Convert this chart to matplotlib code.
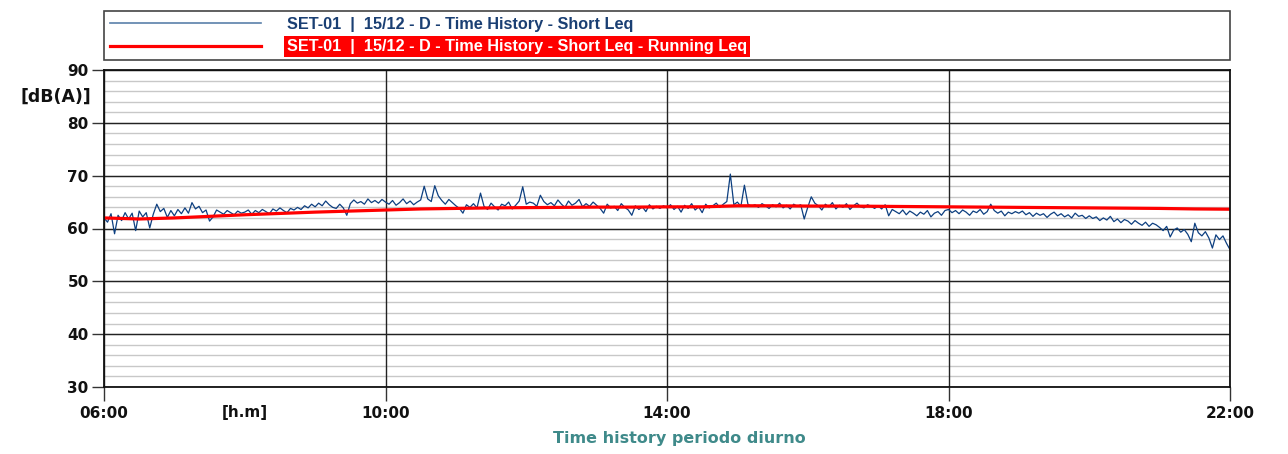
import numpy as np
import matplotlib
matplotlib.use('Agg')
import matplotlib.pyplot as plt
import matplotlib.transforms as mtransforms

# Short Leq, one value every 3 minutes from 06:00 to 22:00 (dB(A))
leq_06 = [62.0, 61.2, 62.8, 59.0, 62.5, 61.5, 63.0, 61.8, 62.9, 59.6, 63.3, 62.2, 63.0, 60.1, 62.7, 64.6, 63.2, 63.8, 62.1, 63.4]
leq_07 = [62.4, 63.6, 62.8, 63.9, 62.9, 64.9, 63.7, 64.2, 63.0, 63.5, 61.4, 62.2, 63.5, 63.1, 62.7, 63.4, 63.0, 62.6, 63.3, 62.9]
leq_08 = [63.1, 63.5, 62.7, 63.4, 63.0, 63.6, 63.2, 62.8, 63.7, 63.3, 63.9, 63.4, 63.0, 63.8, 63.5, 64.0, 63.6, 64.3, 63.9, 64.6]
leq_09 = [64.1, 64.8, 64.3, 65.2, 64.5, 64.0, 63.8, 64.6, 63.9, 62.5, 64.7, 65.4, 64.8, 65.1, 64.6, 65.6, 64.9, 65.3, 64.8, 65.5]
leq_10 = [65.0, 64.6, 65.3, 64.4, 64.9, 65.6, 64.7, 65.2, 64.5, 65.0, 65.4, 68.0, 65.6, 65.1, 68.1, 66.2, 65.3, 64.6, 65.5, 64.9]
leq_11 = [64.3, 63.8, 62.9, 64.5, 64.0, 64.7, 63.9, 66.7, 64.2, 63.6, 64.8, 64.1, 63.5, 64.6, 64.3, 65.0, 63.7, 64.4, 65.2, 67.9]
leq_12 = [64.6, 65.0, 64.8, 64.2, 66.3, 65.1, 64.5, 64.9, 64.3, 65.4, 64.6, 64.0, 65.2, 64.4, 64.8, 65.5, 64.1, 64.7, 64.2, 65.0]
leq_13 = [64.4, 63.8, 62.9, 64.6, 63.9, 64.2, 63.4, 64.7, 64.0, 63.5, 62.5, 64.3, 63.6, 64.1, 63.2, 64.5, 63.7, 64.2, 63.8, 64.3]
leq_14 = [63.9, 64.5, 63.6, 64.2, 63.1, 64.4, 63.8, 64.7, 63.5, 64.1, 63.0, 64.6, 63.9, 64.3, 64.8, 64.0, 64.6, 65.1, 70.3, 64.5]
leq_15 = [65.0, 64.2, 68.2, 64.6, 64.2, 64.5, 64.0, 64.7, 64.3, 63.8, 64.5, 64.1, 64.8, 63.9, 64.4, 63.7, 64.6, 64.2, 64.5, 61.8]
leq_16 = [64.0, 66.0, 64.8, 64.3, 63.5, 64.6, 64.1, 64.9, 63.7, 64.4, 64.0, 64.7, 63.6, 64.3, 64.8, 64.1, 63.9, 64.5, 64.2, 63.8]
leq_17 = [64.3, 63.7, 64.5, 62.4, 63.6, 63.2, 62.8, 63.5, 62.6, 63.3, 62.9, 62.4, 63.1, 62.7, 63.4, 62.2, 62.9, 63.2, 62.5, 63.4]
leq_18 = [63.6, 63.0, 63.4, 62.8, 63.5, 63.1, 62.5, 63.3, 63.0, 63.6, 62.7, 63.2, 64.6, 63.4, 62.9, 63.3, 62.4, 63.1, 62.8, 63.2]
leq_19 = [62.9, 63.3, 62.6, 63.0, 62.3, 62.9, 62.5, 62.8, 62.1, 62.7, 63.1, 62.4, 62.8, 62.2, 62.6, 62.0, 62.9, 62.3, 62.5, 61.9]
leq_20 = [62.4, 61.9, 62.2, 61.5, 62.0, 61.6, 62.3, 61.3, 61.8, 61.1, 61.7, 61.4, 60.8, 61.5, 61.0, 60.6, 61.2, 60.4, 61.0, 60.7]
leq_21 = [60.2, 59.6, 60.4, 58.4, 59.7, 60.1, 59.3, 59.8, 58.9, 57.5, 61.0, 59.2, 58.6, 59.4, 58.2, 56.3, 58.8, 57.9, 58.6, 57.2, 56.0]

short_leq = (leq_06 + leq_07 + leq_08 + leq_09 + leq_10 + leq_11 + leq_12 + leq_13 +
             leq_14 + leq_15 + leq_16 + leq_17 + leq_18 + leq_19 + leq_20 + leq_21)
short_hours = 6 + np.arange(len(short_leq)) * 3 / 60.0

# Running Leq, every half hour
running_hours = [6.0, 6.5, 7.0, 7.5, 8.0, 8.5, 9.0, 9.5, 10.0, 10.5, 11.0, 11.5, 12.0, 12.5, 13.0, 13.5,
                 14.0, 14.5, 15.0, 15.5, 16.0, 16.5, 17.0, 17.5, 18.0, 18.5, 19.0, 19.5, 20.0, 20.5, 21.0, 21.5, 22.0]
running_leq = [62.0, 61.8, 62.0, 62.3, 62.6, 62.85, 63.1, 63.3, 63.5, 63.7, 63.8, 63.9, 63.95, 64.0, 64.05, 64.05,
               64.1, 64.1, 64.3, 64.3, 64.25, 64.25, 64.2, 64.15, 64.1, 64.05, 64.0, 63.95, 63.9, 63.85, 63.8, 63.7, 63.65]

xticks = [6, 10, 14, 18, 22]
xtick_labels = ['06:00', '10:00', '14:00', '18:00', '22:00']
yticks = [30, 40, 50, 60, 70, 80, 90]
yminor = np.arange(30, 91, 2)

label_blue = 'SET-01  |  15/12 - D - Time History - Short Leq'
label_red = 'SET-01  |  15/12 - D - Time History - Short Leq - Running Leq'

fig = plt.figure(figsize=(12.88, 4.54), dpi=100)
ax = fig.add_axes([104/1288, 67/454, 1126/1288, 317/454])

# grid: light lines every 2 dB, dark lines on the labelled values
for y in yminor:
    ax.axhline(y, color='#c8c8c8', lw=1.0, zorder=0)
for y in yticks:
    ax.axhline(y, color='#222222', lw=1.0, zorder=1)
for x in xticks:
    ax.axvline(x, color='#222222', lw=1.0, zorder=2)

ax.plot(short_hours, short_leq, color='#0d3f80', lw=0.9, label=label_blue, zorder=3)
ax.plot(running_hours, running_leq, color='#ff0000', lw=2.3, label=label_red, zorder=4)

ax.set_xlim(6, 22)
ax.set_ylim(30, 90)
ax.set_xticks(xticks)
ax.set_xticklabels(xtick_labels)
ax.set_yticks(yticks)
ax.tick_params(axis='x', which='major', length=10, width=1, pad=4, color='#333333')
ax.tick_params(axis='y', which='major', length=9, width=1, pad=2, color='#333333')
for lab in ax.get_xticklabels() + ax.get_yticklabels():
    lab.set_fontsize(11)
    lab.set_fontweight('bold')
    lab.set_color('#111111')
for sp in ax.spines.values():
    sp.set_color('#111111')
    sp.set_linewidth(1.3)
    sp.set_zorder(5)

trans_y = mtransforms.blended_transform_factory(ax.transAxes, ax.transData)
ax.text(-0.011, 85, '[dB(A)]', transform=trans_y, ha='right', va='center',
        fontsize=12.5, fontweight='bold', color='#111111')
trans_x = mtransforms.blended_transform_factory(ax.transData, ax.transAxes)
ax.text(8, -0.079, '[h.m]', transform=trans_x, ha='center', va='center',
        fontsize=11, fontweight='bold', color='#111111')

fig.text(679/1288, 1 - 438/454, 'Time history periodo diurno', ha='center', va='center',
         fontsize=11.5, fontweight='bold', color='#3f8a8a')

leg = ax.legend(loc='lower left', bbox_to_anchor=(0, 1 + 10/317, 1, 0.15), mode='expand',
                borderaxespad=0, fancybox=False, framealpha=1, edgecolor='#444444',
                handlelength=9.3, handletextpad=1.6, labelspacing=0.45, borderpad=0.35,
                prop={'family': 'Liberation Sans', 'weight': 'bold', 'size': 11.7})
leg.get_frame().set_linewidth(1.2)
leg.get_lines()[0].set_color('#5a80aa')
leg.get_lines()[0].set_linewidth(1.2)
texts = leg.get_texts()
texts[0].set_color('#1a3f73')
texts[1].set_color('white')
texts[1].set_bbox(dict(facecolor='#ff0000', edgecolor='none', pad=2.2))

fig.savefig('out.png', dpi=100)
